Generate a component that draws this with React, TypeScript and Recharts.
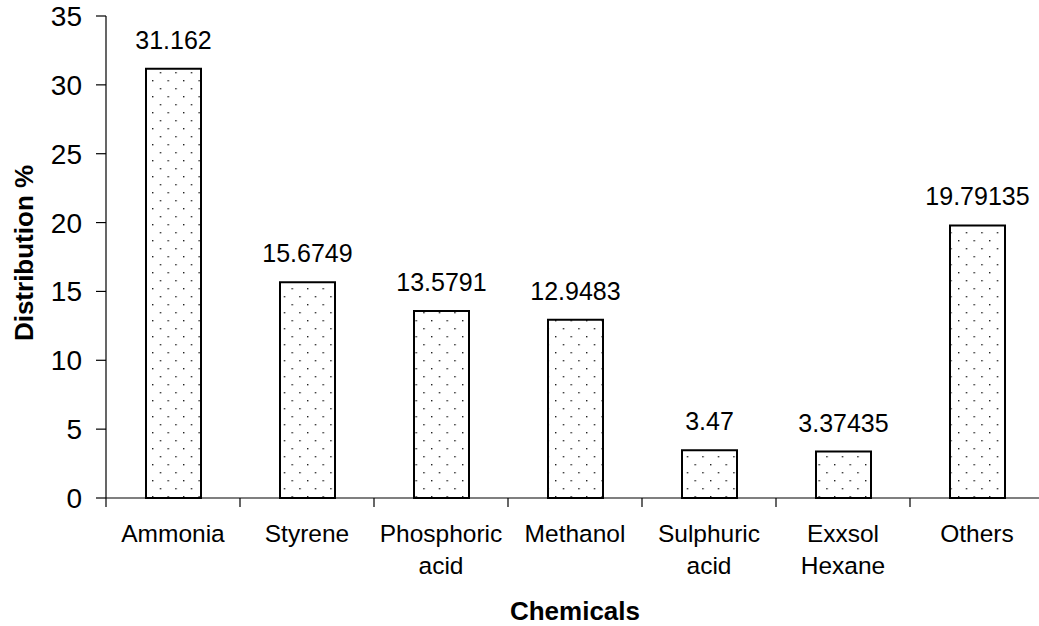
import React from "react";
import { BarChart, Bar, XAxis, YAxis, LabelList } from "recharts";

const categories = [
  "Ammonia",
  "Styrene",
  "Phosphoric acid",
  "Methanol",
  "Sulphuric acid",
  "Exxsol Hexane",
  "Others",
];
const distribution = [31.162, 15.6749, 13.5791, 12.9483, 3.47, 3.37435, 19.79135];
const yTicks = [0, 5, 10, 15, 20, 25, 30, 35];

const data = categories.map((name, i) => ({ name, value: distribution[i] }));

const FONT = "'Liberation Sans', Arial, sans-serif";
const WIDTH = 1050;
const HEIGHT = 626;
const LEFT = 106;
const RIGHT = 6;
const BAND = (WIDTH - LEFT - RIGHT) / categories.length;

const CategoryTick = (props: any) => {
  const { x, y, payload } = props;
  const lines = String(payload.value).split(" ");
  return (
    <g>
      <line x1={x - BAND / 2} x2={x - BAND / 2} y1={y - 8} y2={y + 1} stroke="#000" strokeWidth={1.2} />
      <text x={x} y={y + 36} textAnchor="middle" fontFamily={FONT} fontSize={24.5} fill="#000">
        {lines.map((l, i) => (
          <tspan key={i} x={x} dy={i === 0 ? 0 : 31.5}>
            {l}
          </tspan>
        ))}
      </text>
    </g>
  );
};

const App: React.FC = () => {
  return (
    <div style={{ position: "absolute", left: 0, top: 0, width: 1039, height: 626, overflow: "hidden", background: "#fff" }}>
      <BarChart
        width={WIDTH}
        height={HEIGHT}
        data={data}
        margin={{ top: 16, right: RIGHT, left: 0, bottom: 0 }}
      >
        <defs>
          <pattern id="dots" patternUnits="userSpaceOnUse" width={15.5} height={16} x={152} y={0}>
            <rect x={0} y={0} width={1.4} height={1.4} fill="#222" />
            <rect x={7.75} y={8} width={1.4} height={1.4} fill="#222" />
          </pattern>
        </defs>
        <XAxis
          dataKey="name"
          interval={0}
          height={128}
          tickLine={false}
          axisLine={{ stroke: "#000", strokeWidth: 1.2 }}
          tick={<CategoryTick />}
          label={{
            content: (p: any) => (
              <text
                x={p.viewBox.x + p.viewBox.width / 2}
                y={620}
                textAnchor="middle"
                fontFamily={FONT}
                fontWeight="bold"
                fontSize={26}
                fill="#000"
              >
                Chemicals
              </text>
            ),
          }}
        />
        <YAxis
          width={LEFT}
          domain={[0, 35]}
          ticks={yTicks}
          interval={0}
          tickSize={10}
          tickMargin={14}
          tick={{ fontFamily: FONT, fontSize: 28, fill: "#000" }}
          tickLine={{ stroke: "#000", strokeWidth: 1.2 }}
          axisLine={{ stroke: "#000", strokeWidth: 1.2 }}
          label={{
            content: (p: any) => {
              const cy = p.viewBox.y + p.viewBox.height / 2 - 4;
              return (
                <text
                  x={24}
                  y={cy}
                  transform={`rotate(-90, 24, ${cy})`}
                  textAnchor="middle"
                  dominantBaseline="central"
                  fontFamily={FONT}
                  fontWeight="bold"
                  fontSize={26}
                  fill="#000"
                >
                  Distribution %
                </text>
              );
            },
          }}
        />
        <Bar
          dataKey="value"
          barSize={55}
          fill="url(#dots)"
          stroke="#000"
          strokeWidth={2}
          isAnimationActive={false}
        >
          <LabelList
            dataKey="value"
            position="top"
            offset={20}
            style={{ fontFamily: FONT, fontSize: 25, fill: "#000" }}
          />
        </Bar>
      </BarChart>
    </div>
  );
};

export default App;
